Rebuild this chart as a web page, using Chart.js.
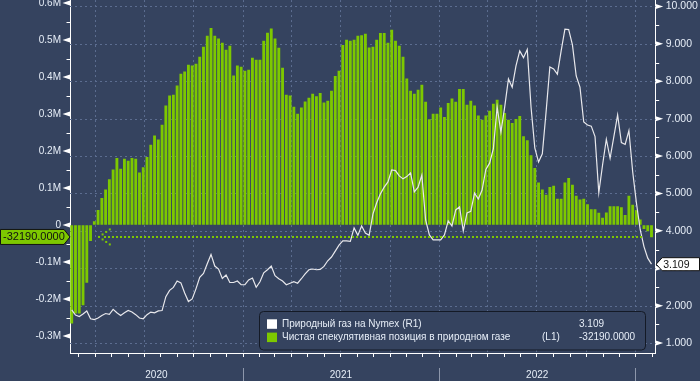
<!DOCTYPE html>
<html><head><meta charset="utf-8">
<script src="https://cdn.jsdelivr.net/npm/chart.js@4.4.1/dist/chart.umd.min.js"></script>
<style>html,body{margin:0;padding:0;background:#35435f;}canvas{display:block}</style>
</head><body>
<canvas id="c" width="700" height="381"></canvas>
<script>
// ---------- data ----------
const firstWeek = '2020-02-18';   // weekly observations (Tuesdays)
const netPosition = [ // net speculative position, contracts (L1)
 -265000,-238000,-238000,-216000,-155000,-42000,9000,40000,72000,95000,
 123000,149000,180000,151000,178000,173000,180000,178000,141000,155000,
 183000,216000,241000,230000,270000,322000,349000,351000,376000,408000,
 414000,432000,430000,435000,454000,481000,511000,532000,511000,503000,
 492000,473000,484000,403000,430000,427000,416000,419000,451000,446000,
 446000,497000,519000,530000,503000,478000,424000,351000,349000,319000,
 300000,317000,333000,343000,354000,347000,356000,330000,335000,362000,
 402000,416000,486000,500000,497000,500000,511000,512000,516000,479000,
 481000,500000,518000,518000,492000,527000,497000,484000,454000,395000,
 362000,354000,365000,378000,332000,285000,300000,300000,317000,291000,
 329000,341000,332000,367000,367000,324000,335000,322000,295000,284000,
 295000,308000,327000,338000,324000,302000,284000,275000,286000,294000,
 239000,228000,188000,153000,114000,95000,81000,102000,105000,70000,
 70000,114000,126000,108000,78000,68000,70000,55000,42000,42000,
 32000,19000,33000,50000,50000,50000,47000,26000,78000,54000,
 39000,14000,-10000,-16000,-32190
];
const gasPrice = [ // Nymex natural gas, USD (R1)
 1.89,1.75,1.71,1.78,1.86,1.65,1.63,1.67,1.74,1.79,
 1.77,1.90,1.81,1.74,1.81,1.87,1.83,1.76,1.67,1.65,
 1.76,1.83,1.81,1.86,1.87,2.24,2.41,2.49,2.66,2.61,
 2.34,2.11,2.18,2.45,2.76,2.86,3.12,3.37,3.06,2.98,
 2.73,2.82,2.62,2.62,2.66,2.56,2.56,2.69,2.74,2.49,
 2.64,2.88,2.96,3.06,2.80,2.72,2.66,2.56,2.60,2.64,
 2.60,2.72,2.85,2.96,2.98,2.96,2.97,3.05,3.20,3.30,
 3.46,3.62,3.73,3.73,3.72,4.08,3.88,4.13,3.94,3.88,
 4.45,4.75,4.99,5.17,5.31,5.63,5.61,5.47,5.39,5.45,
 5.55,5.04,5.17,5.49,4.29,3.89,3.76,3.76,3.76,3.89,
 4.27,4.13,4.56,4.64,4.00,4.48,4.52,5.01,4.85,5.09,
 5.64,5.81,6.20,7.31,6.64,7.31,8.06,7.84,8.41,8.81,
 8.63,8.85,7.31,6.22,5.84,6.06,7.18,8.38,8.33,8.19,
 8.81,9.39,9.38,8.97,8.14,7.84,6.91,6.83,6.80,6.52,
 5.02,5.76,6.45,5.94,6.52,7.10,6.36,6.31,6.68,5.58,
 4.74,4.03,3.58,3.27,3.109
];
const leftTicks = [-300000,-200000,-100000,0,100000,200000,300000,400000,500000,600000];
const rightTicks = [1,2,3,4,5,6,7,8,9,10];
const yearLabels = ['2020','2021','2022'];
const seriesNames = ['Природный газ на Nymex', 'Чистая спекулятивная позиция в природном газе'];
const seriesAxes = ['(R1)', '(L1)'];
const lastValues = ['3.109', '-32190.0000'];

// ---------- helpers ----------
const DAY = 86400000;
const dayOf = (y, m, d) => Date.UTC(y, m, d) / DAY;
const [fy, fm, fd] = firstWeek.split('-').map(Number);
const weekDays = netPosition.map((_, i) => dayOf(fy, fm - 1, fd) + 7 * i);
const xMin = weekDays[0] - 3.2, xMax = weekDays[weekDays.length - 1] + 7.8;

const BG = '#35435f', GRID = '#5c6d90', GREEN = '#7dc800', LINE = '#e8e8ec', TXT = '#e6edf7';
const FONT = 'Liberation Sans, Arial, sans-serif';
const HIDDEN_TICKS = (len) => ({display: true, drawOnChartArea: false, drawTicks: true, tickLength: len, color: 'rgba(0,0,0,0)'});

function monthStarts(everyN) {
  const out = [];
  const s = new Date(xMin * DAY);
  let y = s.getUTCFullYear(), m = s.getUTCMonth() + 1;
  while (true) {
    if (m > 11) { m -= 12; y++; }
    const d = dayOf(y, m, 1);
    if (d > xMax) break;
    if (d >= xMin && m % everyN === 0) out.push({d, y, m});
    m++;
  }
  return out;
}

const deco = {
  id: 'deco',
  beforeDraw(c) {
    const ctx = c.ctx; ctx.save(); ctx.fillStyle = BG; ctx.fillRect(0, 0, c.width, c.height); ctx.restore();
  },
  beforeDatasetsDraw(c) {
    const {ctx, chartArea: a, scales} = c;
    ctx.save();
    ctx.strokeStyle = GRID; ctx.lineWidth = 1; ctx.setLineDash([2, 3]);
    rightTicks.forEach(v => {
      const y = Math.round(scales.yR.getPixelForValue(v)) + 0.5;
      ctx.beginPath(); ctx.moveTo(a.left, y); ctx.lineTo(a.right, y); ctx.stroke();
    });
    monthStarts(3).forEach(q => {
      const x = Math.round(scales.x.getPixelForValue(q.d)) + 0.5;
      ctx.beginPath(); ctx.moveTo(x, a.top); ctx.lineTo(x, a.bottom); ctx.stroke();
    });
    ctx.restore();
  },
  afterDatasetsDraw(c) {
    const {ctx, chartArea: a, scales} = c;
    const y = scales.yL.getPixelForValue(netPosition[netPosition.length - 1]);
    const tip = a.left + 29, end = a.right - 13;
    ctx.save();
    ctx.strokeStyle = GREEN; ctx.lineWidth = 2; ctx.setLineDash([2, 2]);
    ctx.beginPath(); ctx.moveTo(tip + 5, y); ctx.lineTo(end, y); ctx.stroke();
    ctx.setLineDash([]); ctx.fillStyle = GREEN;
    for (let k = 0; k < 4; k++) {
      const dx = k * 3.6, dy = k * 2.5;
      ctx.fillRect(tip + dx - 1, y - dy - 1, 2, 2);
      if (k) ctx.fillRect(tip + dx - 1, y + dy - 1, 2, 2);
    }
    ctx.restore();
  },
  afterDraw(c) {
    const {ctx, chartArea: a, scales} = c;
    ctx.save();
    // left axis triangles and minor ticks
    ctx.fillStyle = '#ffffff'; ctx.strokeStyle = '#ffffff'; ctx.lineWidth = 1;
    leftTicks.forEach(v => {
      const y = scales.yL.getPixelForValue(v);
      ctx.beginPath(); ctx.moveTo(a.left, y - 2.5); ctx.lineTo(a.left - 7.5, y); ctx.lineTo(a.left, y + 2.5); ctx.closePath(); ctx.fill();
      const ym = Math.round(scales.yL.getPixelForValue(v + 50000)) + 0.5;
      if (v + 50000 < scales.yL.max) { ctx.beginPath(); ctx.moveTo(a.left - 3.5, ym); ctx.lineTo(a.left, ym); ctx.stroke(); }
    });
    // right axis triangles and minor ticks
    rightTicks.forEach(v => {
      const y = scales.yR.getPixelForValue(v);
      ctx.beginPath(); ctx.moveTo(a.right, y - 2.5); ctx.lineTo(a.right + 7.5, y); ctx.lineTo(a.right, y + 2.5); ctx.closePath(); ctx.fill();
      if (v + 0.5 < scales.yR.max) {
        const ym = Math.round(scales.yR.getPixelForValue(v + 0.5)) + 0.5;
        ctx.beginPath(); ctx.moveTo(a.right, ym); ctx.lineTo(a.right + 3.5, ym); ctx.stroke();
      }
    });
    // bottom monthly ticks
    monthStarts(1).forEach(q => {
      const x = Math.round(scales.x.getPixelForValue(q.d)) + 0.5;
      ctx.beginPath(); ctx.moveTo(x, a.bottom); ctx.lineTo(x, a.bottom + 4); ctx.stroke();
    });
    // year separators
    ctx.strokeStyle = '#8d97ab';
    monthStarts(12).forEach(q => {
      const x = Math.round(scales.x.getPixelForValue(q.d)) + 0.5;
      ctx.beginPath(); ctx.moveTo(x, a.bottom + 15); ctx.lineTo(x, c.height); ctx.stroke();
    });
    // left value tag
    const yl = scales.yL.getPixelForValue(netPosition[netPosition.length - 1]);
    ctx.beginPath();
    ctx.moveTo(0.5, yl - 7.5); ctx.lineTo(a.left - 6, yl - 7.5); ctx.lineTo(a.left, yl); ctx.lineTo(a.left - 6, yl + 7.5); ctx.lineTo(0.5, yl + 7.5); ctx.closePath();
    ctx.fillStyle = GREEN; ctx.fill(); ctx.strokeStyle = '#111'; ctx.stroke();
    ctx.fillStyle = '#111'; ctx.font = '11px ' + FONT; ctx.textBaseline = 'middle'; ctx.textAlign = 'left';
    ctx.fillText(lastValues[1], 3, yl + 0.5);
    // right value tag
    const yr = scales.yR.getPixelForValue(gasPrice[gasPrice.length - 1]);
    ctx.beginPath();
    ctx.moveTo(a.right + 0.5, yr); ctx.lineTo(a.right + 6.5, yr - 6.5); ctx.lineTo(699.5, yr - 6.5); ctx.lineTo(699.5, yr + 6.5); ctx.lineTo(a.right + 6.5, yr + 6.5); ctx.closePath();
    ctx.fillStyle = '#ffffff'; ctx.fill(); ctx.strokeStyle = '#111'; ctx.stroke();
    ctx.fillStyle = '#111'; ctx.font = '10.5px ' + FONT;
    ctx.fillText(lastValues[0], a.right + 7.5, yr + 0.5);
    // legend box
    ctx.beginPath(); ctx.roundRect(259.5, 311.5, 386, 38.5, 4);
    ctx.fillStyle = BG; ctx.fill(); ctx.strokeStyle = '#141a26'; ctx.lineWidth = 1; ctx.stroke();
    const rows = [324, 337.3], sw = ['#ffffff', GREEN];
    ctx.font = '10px ' + FONT; ctx.textBaseline = 'middle';
    rows.forEach((ry, i) => {
      ctx.fillStyle = sw[i]; ctx.fillRect(267, ry - 4.7, 10, 9.5);
      ctx.fillStyle = TXT;
      if (i === 0) ctx.fillText(seriesNames[0] + ' ' + seriesAxes[0], 282, ry);
      else { ctx.fillText(seriesNames[1], 282, ry); ctx.fillText(seriesAxes[1], 542, ry); }
      ctx.fillText(lastValues[i], 579, ry);
    });
    ctx.restore();
  }
};

new Chart(document.getElementById('c'), {
  data: {
    datasets: [
      { type: 'line', label: seriesNames[0], yAxisID: 'yR', order: 0,
        data: gasPrice.map((v, i) => ({x: weekDays[i], y: v})),
        borderColor: LINE, borderWidth: 1.2, pointRadius: 0, tension: 0 },
      { type: 'bar', label: seriesNames[1], yAxisID: 'yL', order: 1,
        data: netPosition.map((v, i) => ({x: weekDays[i], y: v})),
        backgroundColor: GREEN, barThickness: 2.2, borderWidth: 0 }
    ]
  },
  options: {
    responsive: false, animation: false, devicePixelRatio: 1,
    layout: {padding: 0},
    plugins: {legend: {display: false}, tooltip: {enabled: false}},
    scales: {
      x: { type: 'linear', position: 'bottom', min: xMin, max: xMax, offset: false,
        grid: {display: false, drawTicks: false}, border: {display: true, color: '#ffffff'},
        afterFit: s => { s.height = 28; },
        afterBuildTicks: s => {
          s.ticks = yearLabels.map(y => {
            const a0 = Math.max(dayOf(+y, 0, 1), xMin), b0 = Math.min(dayOf(+y + 1, 0, 1), xMax);
            return {value: (a0 + b0) / 2};
          });
        },
        ticks: { autoSkip: false, maxRotation: 0, padding: 16, color: TXT, font: {family: FONT, size: 10},
          callback: (v, i) => yearLabels[i] }
      },
      yL: { type: 'linear', position: 'left', min: -345900, max: 608100,
        grid: HIDDEN_TICKS(9), border: {display: true, color: '#ffffff'},
        afterFit: s => { s.width = 70; },
        afterBuildTicks: s => { s.ticks = leftTicks.map(v => ({value: v})); },
        ticks: { autoSkip: false, padding: 0, color: TXT, font: {family: FONT, size: 10, lineHeight: 0.01},
          callback: v => v === 0 ? '0' : (v / 1e6).toFixed(1) + 'M' }
      },
      yR: { type: 'linear', position: 'right', min: 0.735, max: 10.17,
        grid: HIDDEN_TICKS(10), border: {display: true, color: '#ffffff'},
        afterFit: s => { s.width = 44.3; },
        afterBuildTicks: s => { s.ticks = rightTicks.map(v => ({value: v})); },
        ticks: { autoSkip: false, padding: 0, color: TXT, font: {family: FONT, size: 10.5, lineHeight: 0.01},
          callback: v => v.toFixed(3) }
      }
    }
  },
  plugins: [deco]
});
</script>
</body></html>
